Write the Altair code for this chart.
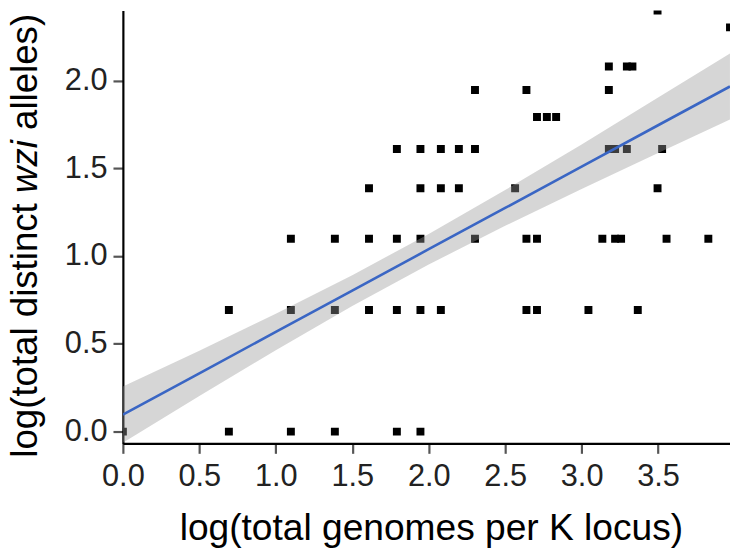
import altair as alt
import numpy as np
import pandas as pd

# Raw counts (each row: alleles count -> list of genome counts)
rows_alleles = [1, 2, 3, 4, 5, 6, 7, 8, 10, 11]
rows_genomes = [
    [1, 2, 3, 4, 6, 7],
    [2, 3, 4, 5, 6, 7, 8, 14, 15, 21, 29],
    [3, 4, 5, 6, 7, 10, 14, 15, 23, 25, 26, 35, 46],
    [5, 7, 8, 9, 13, 33],
    [6, 7, 8, 9, 10, 24, 25, 27, 34],
    [15, 16, 17],
    [10, 14, 24],
    [24, 27, 28],
    [53],
    [33],
]

# Fitted line and confidence band
band_x = [0.0, 0.5, 1.0, 1.5, 2.0, 2.5, 3.0, 3.5, 3.97]
band_fit = [0.097, 0.332, 0.568, 0.803, 1.039, 1.274, 1.509, 1.745, 1.966]
band_lower = [-0.063, 0.203, 0.464, 0.716, 0.952, 1.172, 1.382, 1.587, 1.778]
band_upper = [0.257, 0.461, 0.672, 0.891, 1.126, 1.376, 1.636, 1.903, 2.154]

x_ticks = [0.0, 0.5, 1.0, 1.5, 2.0, 2.5, 3.0, 3.5]
y_ticks = [0.0, 0.5, 1.0, 1.5, 2.0]

pts = []
for a, gl in zip(rows_alleles, rows_genomes):
    for g in gl:
        pts.append({"x": float(np.log(g)), "y": float(np.log(a))})
pts = pd.DataFrame(pts)
band = pd.DataFrame({"x": band_x, "fit": band_fit, "lo": band_lower, "hi": band_upper})

FONT = "Liberation Sans"
W, H = 613, 437
xs = alt.Scale(domain=[0, float(np.log(53))], nice=False, zero=False)
ys = alt.Scale(domain=[-0.067, float(np.log(11))], nice=False, zero=False)

axis_common = dict(
    grid=False, domainColor="black", domainWidth=2.2, tickColor="#555555",
    tickWidth=2.2, tickSize=10, labelFont=FONT, labelFontSize=31,
    labelColor="#222222", format=".1f", labelFlush=False, labelOverlap=False,
)

points = alt.Chart(pts).mark_square(size=64, color="black", opacity=1, clip=True).encode(
    x=alt.X("x:Q", scale=xs, axis=alt.Axis(values=x_ticks, labelPadding=9,
            title="log(total genomes per K locus)", titleFont=FONT, titleFontSize=37.5,
            titleFontWeight="normal", titleColor="black", titleBaseline="alphabetic",
            titleY=97, titleX=311, **axis_common)),
    y=alt.Y("y:Q", scale=ys, axis=alt.Axis(values=y_ticks, labelPadding=6, title=None,
            **axis_common)),
)

area = alt.Chart(band).mark_area(color="#999999", opacity=0.4, clip=True).encode(
    x=alt.X("x:Q", scale=xs), y=alt.Y("hi:Q", scale=ys), y2="lo:Q"
)
line = alt.Chart(band).mark_line(color="#3a66c4", strokeWidth=2.6, clip=True).encode(
    x=alt.X("x:Q", scale=xs), y=alt.Y("fit:Q", scale=ys)
)

# y-axis title with italic part
F = 37
start = 451.5  # bottom end of title, relative to plot top
s_wzi = start - 7.225 * F
gap = 0.278 * F
w_wzi = 1.444 * F
base_t = alt.Chart(pd.DataFrame({"t": [0]}))
t1 = base_t.mark_text(text="log(total distinct", angle=270, align="right", baseline="alphabetic",
                      font=FONT, fontSize=F, color="black").encode(
    x=alt.value(-87), y=alt.value(s_wzi + gap))
t2 = base_t.mark_text(text="wzi", angle=270, align="left", baseline="alphabetic",
                      font=FONT, fontSize=F, fontStyle="italic", color="black").encode(
    x=alt.value(-87), y=alt.value(s_wzi))
t3 = base_t.mark_text(text="alleles)", angle=270, align="left", baseline="alphabetic",
                      font=FONT, fontSize=F, color="black").encode(
    x=alt.value(-87), y=alt.value(s_wzi - w_wzi - gap))

chart = alt.layer(points, area, line, t1, t2, t3).properties(
    width=W, height=H,
    autosize=alt.AutoSizeParams(type="none"),
    padding={"left": 116, "top": 0, "right": 0, "bottom": 107},
    background="white",
).configure_view(stroke=None)

chart.save("out.html", embed_options={"renderer": "svg", "actions": False})
